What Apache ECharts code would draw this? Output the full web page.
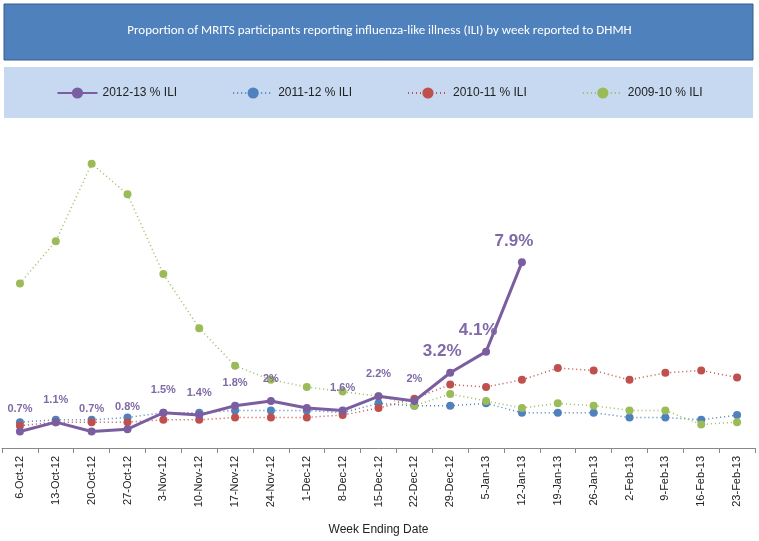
<!DOCTYPE html>
<html>
<head>
<meta charset="utf-8">
<script src="https://cdn.jsdelivr.net/npm/echarts@6/dist/echarts.min.js"></script>
<style>html,body{margin:0;padding:0;background:#fff}#chart{width:759px;height:541px}</style>
</head>
<body>
<div id="chart"></div>
<script>
var weeks = ['6-Oct-12','13-Oct-12','20-Oct-12','27-Oct-12','3-Nov-12','10-Nov-12','17-Nov-12','24-Nov-12','1-Dec-12','8-Dec-12','15-Dec-12','22-Dec-12','29-Dec-12','5-Jan-13','12-Jan-13','19-Jan-13','26-Jan-13','2-Feb-13','9-Feb-13','16-Feb-13','23-Feb-13'];
var ili1213 = [0.7,1.1,0.7,0.8,1.5,1.4,1.8,2.0,1.7,1.6,2.2,2.0,3.2,4.1,7.9];
var labels1213 = ['0.7%','1.1%','0.7%','0.8%','1.5%','1.4%','1.8%','2%','','1.6%','2.2%','2%','3.2%','4.1%','7.9%'];
var ili1112 = [1.1,1.2,1.2,1.3,1.5,1.5,1.6,1.6,1.6,1.5,1.9,1.8,1.8,1.9,1.5,1.5,1.5,1.3,1.3,1.2,1.4];
var ili1011 = [0.95,1.1,1.1,1.1,1.2,1.2,1.3,1.3,1.3,1.4,1.7,2.1,2.7,2.6,2.9,3.4,3.3,2.9,3.2,3.3,3.0];
var ili0910 = [7.0,8.8,12.1,10.8,7.4,5.1,3.5,2.9,2.6,2.4,2.2,1.8,2.3,2.0,1.7,1.9,1.8,1.6,1.6,1.0,1.1];

var chart = echarts.init(document.getElementById('chart'));
var purple = '#7B5EA0', blue = '#4F81BD', red = '#C0504D', green = '#9BBB59';

var labelData = ili1213.map(function (v, i) {
  var big = i >= 12;
  return {
    value: v,
    label: {
      show: labels1213[i] !== '',
      formatter: labels1213[i],
      fontSize: big ? 17 : 11,
      offset: big ? [-8, -4] : [0, -8]
    }
  };
});

function dotted(name, data, color) {
  return {
    name: name, type: 'line', data: data, symbol: 'circle', symbolSize: 8,
    itemStyle: {color: color}, lineStyle: {color: color, width: 1.5, type: [1, 3]}
  };
}

chart.setOption({
  animation: false,
  graphic: [
    {type: 'rect', shape: {x: 4, y: 4, width: 749, height: 56}, style: {fill: '#4F81BD', stroke: '#385D8A', lineWidth: 1}},
    {type: 'text', left: 'center', top: 24, style: {text: 'Proportion of MRITS participants reporting influenza-like illness (ILI) by week reported to DHMH', fill: '#fff', font: '13px Calibri, "Open Sans", sans-serif'}},
    {type: 'rect', shape: {x: 4, y: 67, width: 749, height: 51}, style: {fill: '#C6D9F1'}}
  ],
  legend: {
    top: 82, left: 'center', itemGap: 55, itemWidth: 40,
    textStyle: {fontSize: 12, color: '#222'},
    data: ['2012-13 % ILI', '2011-12 % ILI', '2010-11 % ILI', '2009-10 % ILI']
  },
  grid: {left: 2, right: 4, top: 119, bottom: 91},
  xAxis: {
    type: 'category', data: weeks, boundaryGap: true,
    axisLine: {lineStyle: {color: '#888'}},
    axisTick: {show: true, lineStyle: {color: '#888'}},
    axisLabel: {rotate: 90, fontSize: 11, color: '#222'},
    name: 'Week Ending Date', nameLocation: 'middle', nameGap: 76,
    nameTextStyle: {fontSize: 12, color: '#222'}
  },
  yAxis: {type: 'value', min: 0, max: 14, show: false, splitLine: {show: false}},
  series: [
    {
      name: '2012-13 % ILI', type: 'line', data: labelData, z: 5,
      symbol: 'circle', symbolSize: 8,
      itemStyle: {color: purple}, lineStyle: {color: purple, width: 3},
      label: {show: true, position: 'top', color: '#7E6AA6', fontWeight: 'bold'}
    },
    dotted('2011-12 % ILI', ili1112, blue),
    dotted('2010-11 % ILI', ili1011, red),
    dotted('2009-10 % ILI', ili0910, green)
  ]
});
</script>
</body>
</html>
